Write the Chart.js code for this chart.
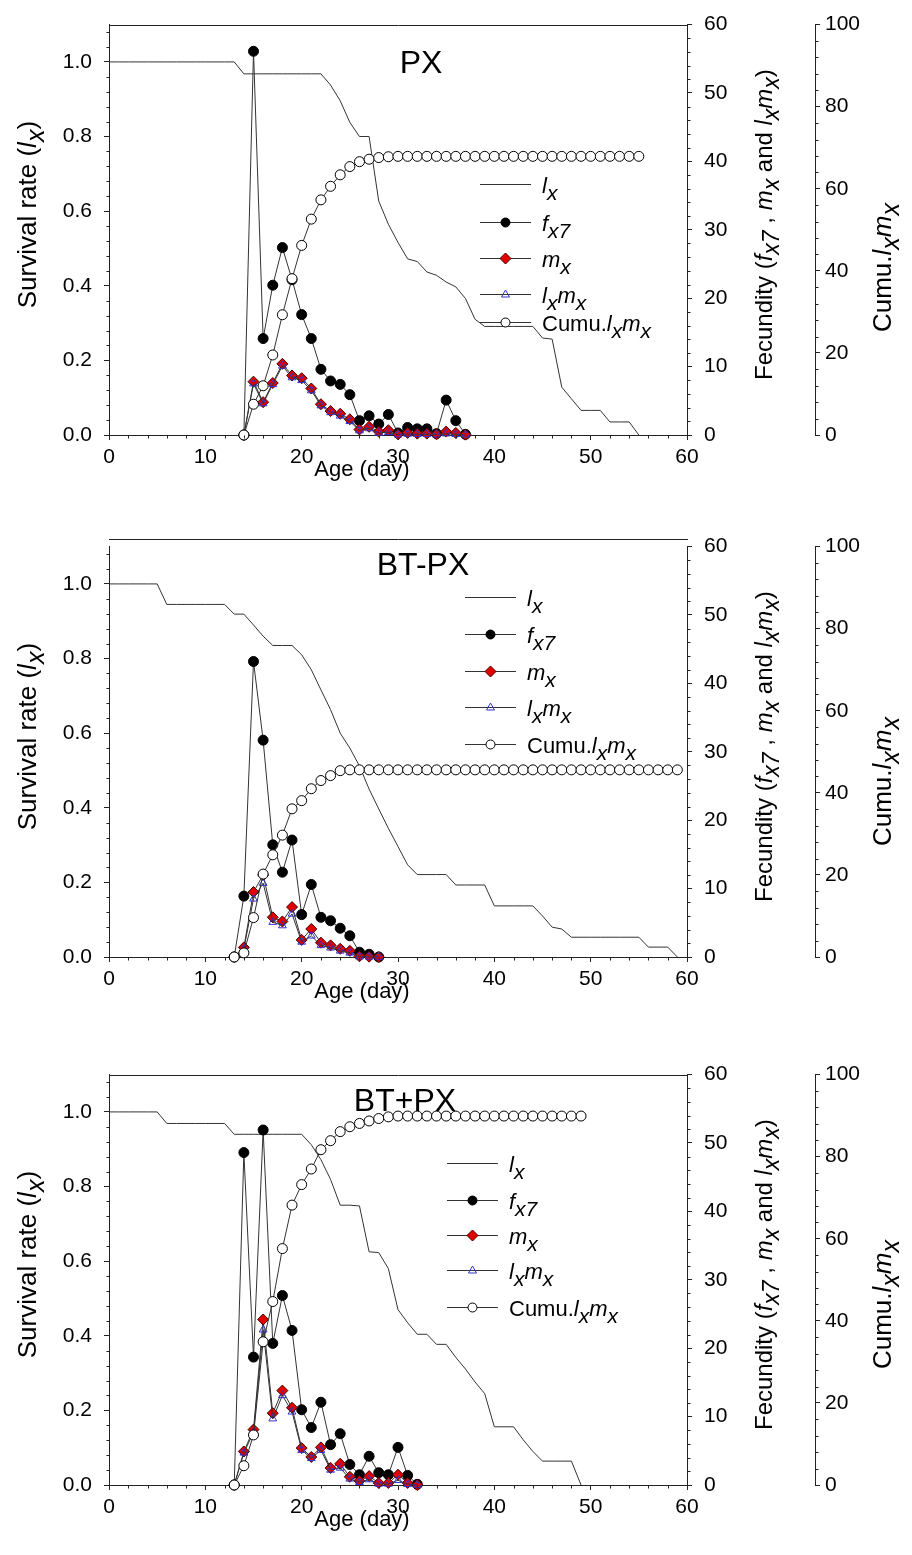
<!DOCTYPE html>
<html>
<head>
<meta charset="utf-8">
<title>Life table curves</title>
<script src="https://cdn.jsdelivr.net/npm/chart.js@4/dist/chart.umd.min.js"></script>
<style>
  html, body { margin: 0; padding: 0; background: #fff; }
  body { width: 912px; height: 1555px; position: relative; overflow: hidden; }
  .panel { position: absolute; left: 0; width: 912px; height: 500px; }
</style>
</head>
<body>
<div class="panel" style="top:0px"><canvas id="px" width="912" height="500"></canvas></div>
<div class="panel" style="top:522px"><canvas id="btMinus" width="912" height="500"></canvas></div>
<div class="panel" style="top:1050px"><canvas id="btPlus" width="912" height="500"></canvas></div>
<script>
// ---- PX ----
// survival lx, day 0..55
const pxLx = [1, 1, 1, 1, 1, 1, 1, 1, 1, 1, 1, 1, 1, 1,
  0.968, 0.968, 0.968, 0.968, 0.968, 0.968, 0.968, 0.968, 0.968,
  0.938, 0.896, 0.838, 0.80, 0.80, 0.627, 0.565, 0.516, 0.472, 0.465, 0.437, 0.428, 0.41, 0.397,
  0.366, 0.31, 0.291, 0.291, 0.291, 0.291, 0.291, 0.291, 0.26, 0.257, 0.128, 0.097, 0.066, 0.066,
  0.066, 0.035, 0.035, 0.035, 0];
// reproduction series start at day 14
const pxStart = 14;
const pxFx7 = [0, 56.1, 14.1, 21.9, 27.4, 22.7, 17.6, 14.1, 9.6, 7.9, 7.4, 5.9, 2.1, 2.8, 1.6, 3.0, 0.3, 1.1, 0.9, 0.9, 0.2, 5.1, 2.1, 0.1];
const pxMx = [0, 7.8, 4.8, 7.6, 10.4, 8.7, 8.3, 6.8, 4.5, 3.5, 3.1, 2.3, 0.8, 1.2, 0.5, 0.7, 0.1, 0.3, 0.2, 0.2, 0.1, 0.5, 0.3, 0.05];
const pxLxMx = [0, 7.5, 4.6, 7.4, 10.1, 8.4, 8.0, 6.5, 4.3, 3.3, 2.8, 2.0, 0.65, 0.95, 0.3, 0.4, 0.05, 0.15, 0.1, 0.1, 0.05, 0.2, 0.1, 0.02];
const pxCumu = [0, 7.5, 12.0, 19.5, 29.3, 38.1, 46.2, 52.6, 57.3, 60.6, 63.4, 65.4, 66.6, 67.2, 67.6,
  67.8, 67.9, 67.9, 67.9, 67.9, 67.9, 67.9, 67.9, 67.9, 67.9, 67.9, 67.9, 67.9, 67.9, 67.9,
  67.9, 67.9, 67.9, 67.9, 67.9, 67.9, 67.9, 67.9, 67.9, 67.9, 67.9, 67.9];

// ---- BT-PX ----
const btmLx = [1, 1, 1, 1, 1, 1, 0.945, 0.945, 0.945, 0.945, 0.945, 0.945, 0.945,
  0.919, 0.919, 0.89, 0.86, 0.835, 0.835, 0.835, 0.81, 0.77, 0.716, 0.663, 0.60, 0.56, 0.512,
  0.45, 0.397, 0.345, 0.296, 0.247, 0.221, 0.221, 0.221, 0.221, 0.193, 0.193, 0.193, 0.193,
  0.137, 0.137, 0.137, 0.137, 0.137, 0.11, 0.08, 0.075,
  0.053, 0.053, 0.053, 0.053, 0.053, 0.053, 0.053, 0.053, 0.0265, 0.0265, 0.0265, 0];
const btmStart = 13;
const btmFx7 = [0, 8.9, 43.2, 31.7, 16.4, 12.4, 17.1, 6.2, 10.6, 5.8, 5.3, 4.2, 3.1, 0.7, 0.4, 0];
const btmMx = [0, 1.4, 9.5, 12.0, 5.8, 5.2, 7.3, 2.5, 4.1, 2.1, 1.7, 1.2, 0.9, 0.1, 0.05, 0];
const btmLxMx = [0, 1.2, 8.5, 10.8, 5.1, 4.6, 6.3, 2.2, 3.1, 1.7, 1.35, 0.9, 0.6, 0.05, 0.02, 0];
const btmCumu = [0, 1.0, 9.6, 20.2, 24.9, 29.7, 36.1, 38.1, 41.0, 43.0, 44.2, 45.4, 45.6,
  45.6, 45.6, 45.6, 45.6, 45.6, 45.6, 45.6, 45.6, 45.6, 45.6, 45.6, 45.6, 45.6, 45.6, 45.6,
  45.6, 45.6, 45.6, 45.6, 45.6, 45.6, 45.6, 45.6, 45.6, 45.6, 45.6, 45.6, 45.6, 45.6, 45.6,
  45.6, 45.6, 45.6, 45.6];

// ---- BT+PX ----
const btpLx = [1, 1, 1, 1, 1, 1, 0.969, 0.969, 0.969, 0.969, 0.969, 0.969, 0.969,
  0.94, 0.94, 0.94, 0.94, 0.94, 0.94, 0.94, 0.94,
  0.912, 0.872, 0.819, 0.75, 0.75, 0.748, 0.625, 0.623, 0.58, 0.47, 0.435, 0.404, 0.404,
  0.377, 0.377, 0.342, 0.311, 0.276, 0.245, 0.156, 0.156, 0.156, 0.121, 0.09,
  0.064, 0.064, 0.064, 0.064, 0];
const btpStart = 13;
const btpFx7 = [0, 48.6, 18.7, 51.9, 20.7, 27.7, 22.6, 11.0, 8.4, 12.1, 5.9, 7.5, 3.0, 1.5, 4.2, 1.8, 1.5, 5.5, 1.4, 0.1];
const btpMx = [0, 4.9, 8.1, 24.2, 10.5, 13.8, 11.3, 5.4, 4.1, 5.5, 2.5, 3.1, 1.2, 0.6, 1.3, 0.3, 0.3, 1.5, 0.3, 0];
const btpLxMx = [0, 4.7, 7.7, 22.7, 9.7, 13.1, 10.7, 5.1, 3.9, 5.1, 2.2, 2.5, 0.9, 0.4, 0.8, 0.15, 0.15, 0.7, 0.1, 0];
const btpCumu = [0, 4.7, 12.2, 34.9, 44.7, 57.6, 68.2, 73.2, 77.0, 81.7, 83.9, 86.1, 87.3, 88.1, 88.7, 89.3, 89.7,
  89.9, 89.9, 89.9, 89.9, 89.9, 89.9, 89.9, 89.9, 89.9, 89.9, 89.9, 89.9, 89.9, 89.9, 89.9,
  89.9, 89.9, 89.9, 89.9, 89.9];

// axis ranges / tick steps
const ageRange = [0, 60], ageStep = 10, ageMinor = 2;
const lxRange = [0, 1.1], lxStep = 0.2, lxMinor = 0.04;
const fecRange = [0, 60], fecStep = 10, fecMinor = 2;
const cumRange = [0, 100], cumStep = 20, cumMinor = 4;

const FONT = "'Liberation Sans', Arial, Helvetica, sans-serif";
const AXIS = '#222';
const LINE = '#333';
const TICK_SIZE = 21;

function pts(start, vals) {
  return vals.map((v, i) => ({ x: start + i, y: v }));
}

// text with italic / subscript pieces: [text, 'n' | 'i' | 's']
function drawRich(ctx, parts, x, y, size, align) {
  const ps = parts.map(([t, st]) => {
    const sub = st === 's';
    const font = (st === 'n' ? '' : 'italic ') + (sub ? size - 1 : size) + 'px ' + FONT;
    ctx.font = font;
    return { t, font, w: ctx.measureText(t).width, dy: sub ? Math.round(size * 0.3) : 0 };
  });
  const total = ps.reduce((s, p) => s + p.w, 0);
  let cx = align === 'center' ? x - total / 2 : x;
  ctx.textAlign = 'left';
  ctx.textBaseline = 'alphabetic';
  ps.forEach(p => { ctx.font = p.font; ctx.fillText(p.t, cx, y + p.dy); cx += p.w; });
}

function marker(ctx, kind, x, y) {
  ctx.lineWidth = 1;
  ctx.beginPath();
  if (kind === 'dot' || kind === 'ring') {
    ctx.arc(x, y, 4.5, 0, Math.PI * 2);
    ctx.fillStyle = kind === 'dot' ? '#000' : '#fff';
    ctx.strokeStyle = '#000';
    ctx.fill(); ctx.stroke();
  } else if (kind === 'diamond') {
    ctx.moveTo(x, y - 5.5); ctx.lineTo(x + 5.5, y); ctx.lineTo(x, y + 5.5); ctx.lineTo(x - 5.5, y); ctx.closePath();
    ctx.fillStyle = '#e00000'; ctx.strokeStyle = '#400';
    ctx.fill(); ctx.stroke();
  } else if (kind === 'tri') {
    ctx.moveTo(x, y - 4.5); ctx.lineTo(x + 4, y + 2.5); ctx.lineTo(x - 4, y + 2.5); ctx.closePath();
    ctx.strokeStyle = '#3333cc';
    ctx.stroke();
  }
}

const legendItems = [
  { mark: null, text: [['l', 'i'], ['x', 's']] },
  { mark: 'dot', text: [['f', 'i'], ['x7', 's']] },
  { mark: 'diamond', text: [['m', 'i'], ['x', 's']] },
  { mark: 'tri', text: [['l', 'i'], ['x', 's'], ['m', 'i'], ['x', 's']] },
  { mark: 'ring', text: [['Cumu.', 'n'], ['l', 'i'], ['x', 's'], ['m', 'i'], ['x', 's']] }
];

function minorTicks(ctx, scale, step, major, from, to, dir) {
  const n = Math.round((to - from) / step);
  const per = Math.round(major / step);
  for (let i = 0; i <= n; i++) {
    if (i % per === 0) continue;
    const p = Math.round(scale.getPixelForValue(from + i * step)) + 0.5;
    ctx.beginPath();
    if (dir === 'down') { const y0 = Math.round(scale.top) + 0.5; ctx.moveTo(p, y0); ctx.lineTo(p, y0 + 3); }
    else if (dir === 'left') { const x0 = Math.round(scale.right) + 0.5; ctx.moveTo(x0, p); ctx.lineTo(x0 - 3, p); }
    else { const x0 = Math.round(scale.left) + 0.5; ctx.moveTo(x0, p); ctx.lineTo(x0 + 3, p); }
    ctx.stroke();
  }
}

function decor(p) {
  return {
    id: 'decor',
    afterDraw(chart) {
      const ctx = chart.ctx, a = chart.chartArea, s = chart.scales;
      ctx.save();
      ctx.strokeStyle = AXIS;
      ctx.lineWidth = 1;
      // top frame line
      const ty = Math.round(a.top - p.topGap) + 0.5;
      ctx.beginPath(); ctx.moveTo(Math.round(a.left), ty); ctx.lineTo(Math.round(a.right) + 1, ty); ctx.stroke();
      // minor ticks
      minorTicks(ctx, s.x, ageMinor, ageStep, ageRange[0], ageRange[1], 'down');
      minorTicks(ctx, s.y, lxMinor, lxStep, lxRange[0], 1.08, 'left');
      minorTicks(ctx, s.yF, fecMinor, fecStep, fecRange[0], fecRange[1], 'right');
      minorTicks(ctx, s.yC, cumMinor, cumStep, cumRange[0], cumRange[1], 'right');

      ctx.fillStyle = '#000';
      // panel name
      ctx.font = '32px ' + FONT;
      ctx.textAlign = 'center';
      ctx.textBaseline = 'alphabetic';
      ctx.fillText(p.name, p.nameX, a.top + p.nameY + 11.5);

      // axis titles
      drawRich(ctx, [['Age (day)', 'n']], p.ageX, a.bottom + 41, 22, 'center');
      const rot = (x, y, size, parts) => {
        ctx.save();
        ctx.translate(x, y);
        ctx.rotate(-Math.PI / 2);
        ctx.fillStyle = '#000';
        drawRich(ctx, parts, 0, 0, size, 'center');
        ctx.restore();
      };
      rot(36, a.top + 190, 26, [['Survival rate (', 'n'], ['l', 'i'], ['x', 's'], [')', 'n']]);
      rot(772, a.top + 200, 24, [['Fecundity (', 'n'], ['f', 'i'], ['x7', 's'], [' , ', 'n'], ['m', 'i'], ['x', 's'],
        [' and ', 'n'], ['l', 'i'], ['x', 's'], ['m', 'i'], ['x', 's'], [')', 'n']]);
      rot(891, a.top + p.cumuY, 26, [['Cumu.', 'n'], ['l', 'i'], ['x', 's'], ['m', 'i'], ['x', 's']]);

      // legend
      legendItems.forEach((it, i) => {
        const y = Math.round(a.top + p.legRows[i]) + 0.5;
        ctx.strokeStyle = LINE;
        ctx.lineWidth = 1;
        ctx.beginPath(); ctx.moveTo(p.legX, y); ctx.lineTo(p.legX + 51, y); ctx.stroke();
        if (it.mark) marker(ctx, it.mark, p.legX + 25.5, y);
        ctx.fillStyle = '#000';
        drawRich(ctx, it.text, p.legX + 62, y + 8, 22, 'left');
      });
      ctx.restore();
    }
  };
}

function makeChart(id, d, p) {
  const font = { family: FONT, size: TICK_SIZE };
  const grid = { display: true, drawOnChartArea: false, drawTicks: true, tickLength: 5, color: AXIS, lineWidth: 1 };
  const border = { display: true, color: AXIS, width: 1 };
  const series = { borderColor: LINE, borderWidth: 1, tension: 0, clip: false, pointBorderWidth: 1 };
  new Chart(document.getElementById(id), {
    type: 'line',
    data: {
      datasets: [
        { ...series, label: 'lx', data: pts(0, d.lx), yAxisID: 'y', order: 4, pointRadius: 0 },
        { ...series, label: 'fx7', data: pts(d.start, d.fx7), yAxisID: 'yF', order: 3,
          pointStyle: 'circle', pointRadius: 5, pointBackgroundColor: '#000', pointBorderColor: '#000' },
        { ...series, label: 'mx', data: pts(d.start, d.mx), yAxisID: 'yF', order: 2,
          pointStyle: 'rectRot', pointRadius: 5.5, pointBackgroundColor: '#e00000', pointBorderColor: '#400' },
        { ...series, label: 'lxmx', data: pts(d.start, d.lxmx), yAxisID: 'yF', order: 1,
          pointStyle: 'triangle', pointRadius: 4.5, pointBackgroundColor: 'rgba(0,0,0,0)', pointBorderColor: '#3333cc' },
        { ...series, label: 'Cumu.lxmx', data: pts(d.start, d.cumu), yAxisID: 'yC', order: 0,
          pointStyle: 'circle', pointRadius: 5, pointBackgroundColor: '#fff', pointBorderColor: '#000' }
      ]
    },
    options: {
      responsive: false,
      animation: false,
      events: [],
      layout: { padding: { top: 20, left: 0, right: 0, bottom: 0 } },
      plugins: { legend: { display: false }, tooltip: { enabled: false } },
      scales: {
        x: { type: 'linear', position: 'bottom', min: ageRange[0], max: ageRange[1],
          ticks: { stepSize: ageStep, font, color: '#000', padding: 5, maxRotation: 0 },
          grid, border, afterFit: s => { s.height = 65; } },
        y: { type: 'linear', position: 'left', min: lxRange[0], max: lxRange[1],
          ticks: { stepSize: lxStep, includeBounds: false, font, color: '#000', padding: 12,
            callback: v => v.toFixed(1) },
          grid, border, afterFit: s => { s.width = 109; } },
        yF: { type: 'linear', position: 'right', weight: 0, min: fecRange[0], max: fecRange[1],
          ticks: { stepSize: fecStep, font, color: '#000', padding: 12 },
          grid, border, afterFit: s => { s.width = 128; } },
        yC: { type: 'linear', position: 'right', weight: 1, min: cumRange[0], max: cumRange[1],
          ticks: { stepSize: cumStep, font, color: '#000', padding: 5 },
          grid, border, afterFit: s => { s.width = 97; } }
      }
    },
    plugins: [decor(p)]
  });
}

makeChart('px',
  { lx: pxLx, start: pxStart, fx7: pxFx7, mx: pxMx, lxmx: pxLxMx, cumu: pxCumu },
  { name: 'PX', nameX: 421, nameY: 37, topGap: 0, ageX: 362, cumuY: 243,
    legX: 480, legRows: [159, 197, 233, 269, 297] });
makeChart('btMinus',
  { lx: btmLx, start: btmStart, fx7: btmFx7, mx: btmMx, lxmx: btmLxMx, cumu: btmCumu },
  { name: 'BT-PX', nameX: 423, nameY: 16.5, topGap: 8, ageX: 362, cumuY: 235,
    legX: 465, legRows: [50.3, 87.3, 124.3, 160.3, 197.3] });
makeChart('btPlus',
  { lx: btpLx, start: btpStart, fx7: btpFx7, mx: btpMx, lxmx: btpLxMx, cumu: btpCumu },
  { name: 'BT+PX', nameX: 405, nameY: 24.5, topGap: 0, ageX: 362, cumuY: 230,
    legX: 447, legRows: [88.5, 125.2, 160.5, 195.2, 232.8] });
</script>
</body>
</html>
